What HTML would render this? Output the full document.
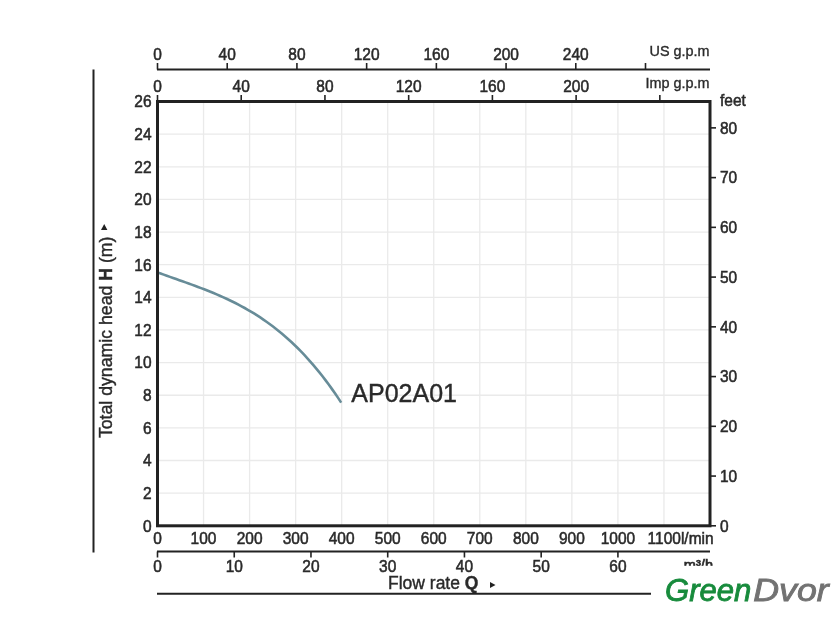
<!DOCTYPE html>
<html><head><meta charset="utf-8"><style>
html,body{margin:0;padding:0;background:#fff;}
svg{display:block;will-change:transform;}
text{font-family:"Liberation Sans",sans-serif;fill:#2a2a2a;}
</style></head><body>
<svg width="840" height="640" viewBox="0 0 840 640">
<line x1="203.54" y1="101.5" x2="203.54" y2="525.8" stroke="#eaeaea" stroke-width="1.3"/>
<line x1="249.58" y1="101.5" x2="249.58" y2="525.8" stroke="#eaeaea" stroke-width="1.3"/>
<line x1="295.62" y1="101.5" x2="295.62" y2="525.8" stroke="#eaeaea" stroke-width="1.3"/>
<line x1="341.67" y1="101.5" x2="341.67" y2="525.8" stroke="#eaeaea" stroke-width="1.3"/>
<line x1="387.71" y1="101.5" x2="387.71" y2="525.8" stroke="#eaeaea" stroke-width="1.3"/>
<line x1="433.75" y1="101.5" x2="433.75" y2="525.8" stroke="#eaeaea" stroke-width="1.3"/>
<line x1="479.79" y1="101.5" x2="479.79" y2="525.8" stroke="#eaeaea" stroke-width="1.3"/>
<line x1="525.83" y1="101.5" x2="525.83" y2="525.8" stroke="#eaeaea" stroke-width="1.3"/>
<line x1="571.88" y1="101.5" x2="571.88" y2="525.8" stroke="#eaeaea" stroke-width="1.3"/>
<line x1="617.92" y1="101.5" x2="617.92" y2="525.8" stroke="#eaeaea" stroke-width="1.3"/>
<line x1="663.96" y1="101.5" x2="663.96" y2="525.8" stroke="#eaeaea" stroke-width="1.3"/>
<line x1="157.5" y1="493.16" x2="710.0" y2="493.16" stroke="#eaeaea" stroke-width="1.3"/>
<line x1="157.5" y1="460.52" x2="710.0" y2="460.52" stroke="#eaeaea" stroke-width="1.3"/>
<line x1="157.5" y1="427.88" x2="710.0" y2="427.88" stroke="#eaeaea" stroke-width="1.3"/>
<line x1="157.5" y1="395.25" x2="710.0" y2="395.25" stroke="#eaeaea" stroke-width="1.3"/>
<line x1="157.5" y1="362.61" x2="710.0" y2="362.61" stroke="#eaeaea" stroke-width="1.3"/>
<line x1="157.5" y1="329.97" x2="710.0" y2="329.97" stroke="#eaeaea" stroke-width="1.3"/>
<line x1="157.5" y1="297.33" x2="710.0" y2="297.33" stroke="#eaeaea" stroke-width="1.3"/>
<line x1="157.5" y1="264.69" x2="710.0" y2="264.69" stroke="#eaeaea" stroke-width="1.3"/>
<line x1="157.5" y1="232.05" x2="710.0" y2="232.05" stroke="#eaeaea" stroke-width="1.3"/>
<line x1="157.5" y1="199.42" x2="710.0" y2="199.42" stroke="#eaeaea" stroke-width="1.3"/>
<line x1="157.5" y1="166.78" x2="710.0" y2="166.78" stroke="#eaeaea" stroke-width="1.3"/>
<line x1="157.5" y1="134.14" x2="710.0" y2="134.14" stroke="#eaeaea" stroke-width="1.3"/>
<path d="M157.50,272.36 L160.61,273.50 L163.73,274.63 L166.84,275.75 L169.95,276.86 L173.07,277.96 L176.18,279.06 L179.29,280.16 L182.41,281.27 L185.52,282.38 L188.64,283.50 L191.75,284.63 L194.86,285.77 L197.98,286.93 L201.09,288.10 L204.20,289.30 L207.32,290.52 L210.43,291.77 L213.54,293.05 L216.66,294.36 L219.77,295.70 L222.88,297.08 L226.00,298.50 L229.11,299.96 L232.23,301.47 L235.34,303.02 L238.45,304.62 L241.57,306.28 L244.68,307.99 L247.79,309.76 L250.91,311.59 L254.02,313.48 L257.13,315.44 L260.25,317.46 L263.36,319.56 L266.47,321.73 L269.59,323.97 L272.70,326.30 L275.82,328.70 L278.93,331.19 L282.04,333.77 L285.16,336.43 L288.27,339.19 L291.38,342.04 L294.50,344.99 L297.61,348.04 L300.72,351.19 L303.84,354.44 L306.95,357.80 L310.06,361.27 L313.18,364.86 L316.29,368.55 L319.41,372.37 L322.52,376.31 L325.63,380.37 L328.75,384.55 L331.86,388.87 L334.97,393.31 L338.09,397.89 L341.20,402.61" fill="none" stroke="#678c98" stroke-width="2.6" stroke-linejoin="round"/>
<rect x="157.5" y="101.5" width="552.5" height="424.29999999999995" fill="none" stroke="#222" stroke-width="3"/>
<text transform="translate(151.50,531.62) scale(1,1.12)" text-anchor="end" font-size="15.5" stroke="#2a2a2a" stroke-width="0.5" >0</text>
<text transform="translate(151.50,498.98) scale(1,1.12)" text-anchor="end" font-size="15.5" stroke="#2a2a2a" stroke-width="0.5" >2</text>
<text transform="translate(151.50,466.34) scale(1,1.12)" text-anchor="end" font-size="15.5" stroke="#2a2a2a" stroke-width="0.5" >4</text>
<text transform="translate(151.50,433.70) scale(1,1.12)" text-anchor="end" font-size="15.5" stroke="#2a2a2a" stroke-width="0.5" >6</text>
<text transform="translate(151.50,401.07) scale(1,1.12)" text-anchor="end" font-size="15.5" stroke="#2a2a2a" stroke-width="0.5" >8</text>
<text transform="translate(151.50,368.43) scale(1,1.12)" text-anchor="end" font-size="15.5" stroke="#2a2a2a" stroke-width="0.5" >10</text>
<text transform="translate(151.50,335.79) scale(1,1.12)" text-anchor="end" font-size="15.5" stroke="#2a2a2a" stroke-width="0.5" >12</text>
<text transform="translate(151.50,303.15) scale(1,1.12)" text-anchor="end" font-size="15.5" stroke="#2a2a2a" stroke-width="0.5" >14</text>
<text transform="translate(151.50,270.51) scale(1,1.12)" text-anchor="end" font-size="15.5" stroke="#2a2a2a" stroke-width="0.5" >16</text>
<text transform="translate(151.50,237.87) scale(1,1.12)" text-anchor="end" font-size="15.5" stroke="#2a2a2a" stroke-width="0.5" >18</text>
<text transform="translate(151.50,205.23) scale(1,1.12)" text-anchor="end" font-size="15.5" stroke="#2a2a2a" stroke-width="0.5" >20</text>
<text transform="translate(151.50,172.60) scale(1,1.12)" text-anchor="end" font-size="15.5" stroke="#2a2a2a" stroke-width="0.5" >22</text>
<text transform="translate(151.50,139.96) scale(1,1.12)" text-anchor="end" font-size="15.5" stroke="#2a2a2a" stroke-width="0.5" >24</text>
<text transform="translate(151.50,107.32) scale(1,1.12)" text-anchor="end" font-size="15.5" stroke="#2a2a2a" stroke-width="0.5" >26</text>
<line x1="710.0" y1="525.80" x2="716" y2="525.80" stroke="#222" stroke-width="1.6"/>
<text transform="translate(720.00,531.62) scale(1,1.12)" text-anchor="start" font-size="15.5" stroke="#2a2a2a" stroke-width="0.5" >0</text>
<line x1="710.0" y1="476.06" x2="716" y2="476.06" stroke="#222" stroke-width="1.6"/>
<text transform="translate(720.00,481.88) scale(1,1.12)" text-anchor="start" font-size="15.5" stroke="#2a2a2a" stroke-width="0.5" >10</text>
<line x1="710.0" y1="426.32" x2="716" y2="426.32" stroke="#222" stroke-width="1.6"/>
<text transform="translate(720.00,432.14) scale(1,1.12)" text-anchor="start" font-size="15.5" stroke="#2a2a2a" stroke-width="0.5" >20</text>
<line x1="710.0" y1="376.58" x2="716" y2="376.58" stroke="#222" stroke-width="1.6"/>
<text transform="translate(720.00,382.40) scale(1,1.12)" text-anchor="start" font-size="15.5" stroke="#2a2a2a" stroke-width="0.5" >30</text>
<line x1="710.0" y1="326.84" x2="716" y2="326.84" stroke="#222" stroke-width="1.6"/>
<text transform="translate(720.00,332.66) scale(1,1.12)" text-anchor="start" font-size="15.5" stroke="#2a2a2a" stroke-width="0.5" >40</text>
<line x1="710.0" y1="277.09" x2="716" y2="277.09" stroke="#222" stroke-width="1.6"/>
<text transform="translate(720.00,282.91) scale(1,1.12)" text-anchor="start" font-size="15.5" stroke="#2a2a2a" stroke-width="0.5" >50</text>
<line x1="710.0" y1="227.35" x2="716" y2="227.35" stroke="#222" stroke-width="1.6"/>
<text transform="translate(720.00,233.17) scale(1,1.12)" text-anchor="start" font-size="15.5" stroke="#2a2a2a" stroke-width="0.5" >60</text>
<line x1="710.0" y1="177.61" x2="716" y2="177.61" stroke="#222" stroke-width="1.6"/>
<text transform="translate(720.00,183.43) scale(1,1.12)" text-anchor="start" font-size="15.5" stroke="#2a2a2a" stroke-width="0.5" >70</text>
<line x1="710.0" y1="127.87" x2="716" y2="127.87" stroke="#222" stroke-width="1.6"/>
<text transform="translate(720.00,133.69) scale(1,1.12)" text-anchor="start" font-size="15.5" stroke="#2a2a2a" stroke-width="0.5" >80</text>
<text transform="translate(720.00,106.22) scale(1,1.12)" text-anchor="start" font-size="15.5" stroke="#2a2a2a" stroke-width="0.5" >feet</text>
<line x1="157.0" y1="69.5" x2="710.0" y2="69.5" stroke="#222" stroke-width="2"/>
<line x1="157.50" y1="63" x2="157.50" y2="69.5" stroke="#222" stroke-width="1.6"/>
<text transform="translate(157.50,60.12) scale(1,1.12)" text-anchor="middle" font-size="15.5" stroke="#2a2a2a" stroke-width="0.5" >0</text>
<line x1="227.21" y1="63" x2="227.21" y2="69.5" stroke="#222" stroke-width="1.6"/>
<text transform="translate(227.21,60.12) scale(1,1.12)" text-anchor="middle" font-size="15.5" stroke="#2a2a2a" stroke-width="0.5" >40</text>
<line x1="296.93" y1="63" x2="296.93" y2="69.5" stroke="#222" stroke-width="1.6"/>
<text transform="translate(296.93,60.12) scale(1,1.12)" text-anchor="middle" font-size="15.5" stroke="#2a2a2a" stroke-width="0.5" >80</text>
<line x1="366.64" y1="63" x2="366.64" y2="69.5" stroke="#222" stroke-width="1.6"/>
<text transform="translate(366.64,60.12) scale(1,1.12)" text-anchor="middle" font-size="15.5" stroke="#2a2a2a" stroke-width="0.5" >120</text>
<line x1="436.36" y1="63" x2="436.36" y2="69.5" stroke="#222" stroke-width="1.6"/>
<text transform="translate(436.36,60.12) scale(1,1.12)" text-anchor="middle" font-size="15.5" stroke="#2a2a2a" stroke-width="0.5" >160</text>
<line x1="506.07" y1="63" x2="506.07" y2="69.5" stroke="#222" stroke-width="1.6"/>
<text transform="translate(506.07,60.12) scale(1,1.12)" text-anchor="middle" font-size="15.5" stroke="#2a2a2a" stroke-width="0.5" >200</text>
<line x1="575.79" y1="63" x2="575.79" y2="69.5" stroke="#222" stroke-width="1.6"/>
<text transform="translate(575.79,60.12) scale(1,1.12)" text-anchor="middle" font-size="15.5" stroke="#2a2a2a" stroke-width="0.5" >240</text>
<line x1="645.50" y1="63" x2="645.50" y2="69.5" stroke="#222" stroke-width="1.6"/>
<text x="709.5" y="56" text-anchor="end" font-size="14.4" stroke="#2a2a2a" stroke-width="0.35">US g.p.m</text>
<line x1="157.50" y1="95" x2="157.50" y2="101.5" stroke="#222" stroke-width="1.6"/>
<text transform="translate(157.50,91.92) scale(1,1.12)" text-anchor="middle" font-size="15.5" stroke="#2a2a2a" stroke-width="0.5" >0</text>
<line x1="241.22" y1="95" x2="241.22" y2="101.5" stroke="#222" stroke-width="1.6"/>
<text transform="translate(241.22,91.92) scale(1,1.12)" text-anchor="middle" font-size="15.5" stroke="#2a2a2a" stroke-width="0.5" >40</text>
<line x1="324.95" y1="95" x2="324.95" y2="101.5" stroke="#222" stroke-width="1.6"/>
<text transform="translate(324.95,91.92) scale(1,1.12)" text-anchor="middle" font-size="15.5" stroke="#2a2a2a" stroke-width="0.5" >80</text>
<line x1="408.67" y1="95" x2="408.67" y2="101.5" stroke="#222" stroke-width="1.6"/>
<text transform="translate(408.67,91.92) scale(1,1.12)" text-anchor="middle" font-size="15.5" stroke="#2a2a2a" stroke-width="0.5" >120</text>
<line x1="492.40" y1="95" x2="492.40" y2="101.5" stroke="#222" stroke-width="1.6"/>
<text transform="translate(492.40,91.92) scale(1,1.12)" text-anchor="middle" font-size="15.5" stroke="#2a2a2a" stroke-width="0.5" >160</text>
<line x1="576.12" y1="95" x2="576.12" y2="101.5" stroke="#222" stroke-width="1.6"/>
<text transform="translate(576.12,91.92) scale(1,1.12)" text-anchor="middle" font-size="15.5" stroke="#2a2a2a" stroke-width="0.5" >200</text>
<line x1="659.84" y1="95" x2="659.84" y2="101.5" stroke="#222" stroke-width="1.6"/>
<text x="709.5" y="88" text-anchor="end" font-size="14.4" stroke="#2a2a2a" stroke-width="0.35">Imp g.p.m</text>
<text transform="translate(157.50,544.22) scale(1,1.12)" text-anchor="middle" font-size="15.5" stroke="#2a2a2a" stroke-width="0.5" >0</text>
<text transform="translate(203.54,544.22) scale(1,1.12)" text-anchor="middle" font-size="15.5" stroke="#2a2a2a" stroke-width="0.5" >100</text>
<text transform="translate(249.58,544.22) scale(1,1.12)" text-anchor="middle" font-size="15.5" stroke="#2a2a2a" stroke-width="0.5" >200</text>
<text transform="translate(295.62,544.22) scale(1,1.12)" text-anchor="middle" font-size="15.5" stroke="#2a2a2a" stroke-width="0.5" >300</text>
<text transform="translate(341.67,544.22) scale(1,1.12)" text-anchor="middle" font-size="15.5" stroke="#2a2a2a" stroke-width="0.5" >400</text>
<text transform="translate(387.71,544.22) scale(1,1.12)" text-anchor="middle" font-size="15.5" stroke="#2a2a2a" stroke-width="0.5" >500</text>
<text transform="translate(433.75,544.22) scale(1,1.12)" text-anchor="middle" font-size="15.5" stroke="#2a2a2a" stroke-width="0.5" >600</text>
<text transform="translate(479.79,544.22) scale(1,1.12)" text-anchor="middle" font-size="15.5" stroke="#2a2a2a" stroke-width="0.5" >700</text>
<text transform="translate(525.83,544.22) scale(1,1.12)" text-anchor="middle" font-size="15.5" stroke="#2a2a2a" stroke-width="0.5" >800</text>
<text transform="translate(571.88,544.22) scale(1,1.12)" text-anchor="middle" font-size="15.5" stroke="#2a2a2a" stroke-width="0.5" >900</text>
<text transform="translate(617.92,544.22) scale(1,1.12)" text-anchor="middle" font-size="15.5" stroke="#2a2a2a" stroke-width="0.5" >1000</text>
<text transform="translate(713.60,544.22) scale(1,1.12)" text-anchor="end" font-size="15.5" stroke="#2a2a2a" stroke-width="0.5" >1100l/min</text>
<line x1="157.0" y1="551.5" x2="710.0" y2="551.5" stroke="#222" stroke-width="2"/>
<line x1="157.50" y1="551.5" x2="157.50" y2="557.5" stroke="#222" stroke-width="1.6"/>
<text transform="translate(157.50,571.72) scale(1,1.12)" text-anchor="middle" font-size="15.5" stroke="#2a2a2a" stroke-width="0.5" >0</text>
<line x1="234.24" y1="551.5" x2="234.24" y2="557.5" stroke="#222" stroke-width="1.6"/>
<text transform="translate(234.24,571.72) scale(1,1.12)" text-anchor="middle" font-size="15.5" stroke="#2a2a2a" stroke-width="0.5" >10</text>
<line x1="310.97" y1="551.5" x2="310.97" y2="557.5" stroke="#222" stroke-width="1.6"/>
<text transform="translate(310.97,571.72) scale(1,1.12)" text-anchor="middle" font-size="15.5" stroke="#2a2a2a" stroke-width="0.5" >20</text>
<line x1="387.71" y1="551.5" x2="387.71" y2="557.5" stroke="#222" stroke-width="1.6"/>
<text transform="translate(387.71,571.72) scale(1,1.12)" text-anchor="middle" font-size="15.5" stroke="#2a2a2a" stroke-width="0.5" >30</text>
<line x1="464.44" y1="551.5" x2="464.44" y2="557.5" stroke="#222" stroke-width="1.6"/>
<text transform="translate(464.44,571.72) scale(1,1.12)" text-anchor="middle" font-size="15.5" stroke="#2a2a2a" stroke-width="0.5" >40</text>
<line x1="541.18" y1="551.5" x2="541.18" y2="557.5" stroke="#222" stroke-width="1.6"/>
<text transform="translate(541.18,571.72) scale(1,1.12)" text-anchor="middle" font-size="15.5" stroke="#2a2a2a" stroke-width="0.5" >50</text>
<line x1="617.92" y1="551.5" x2="617.92" y2="557.5" stroke="#222" stroke-width="1.6"/>
<text transform="translate(617.92,571.72) scale(1,1.12)" text-anchor="middle" font-size="15.5" stroke="#2a2a2a" stroke-width="0.5" >60</text>
<clipPath id="cm"><rect x="670" y="553" width="60" height="12.8"/></clipPath>
<text x="713" y="569.5" text-anchor="end" font-size="14.6" stroke="#2a2a2a" stroke-width="0.7" clip-path="url(#cm)">m³/h</text>
<text x="388" y="589.4" font-size="17.5" stroke="#2a2a2a" stroke-width="0.4">Flow rate <tspan font-weight="bold">Q</tspan></text>
<path d="M490,582 L495.5,585 L490,588 Z" fill="#222"/>
<line x1="157.0" y1="593.7" x2="651" y2="593.7" stroke="#222" stroke-width="2"/>
<line x1="93.5" y1="69.5" x2="93.5" y2="552.5" stroke="#222" stroke-width="2"/>
<g transform="translate(111.5,437.7) rotate(-90)"><text x="-0.4" y="0" font-size="17.7" stroke="#2a2a2a" stroke-width="0.4">Total dynamic head <tspan font-weight="bold">H</tspan> (m)</text></g>
<path d="M104.2,224 L107.4,230 L101,230 Z" fill="#222"/>
<text x="351.3" y="402" font-size="25" stroke="#2a2a2a" stroke-width="0.4">AP02A01</text>
<text x="665" y="600.7" font-size="31" font-style="italic" stroke-width="0.85" textLength="86.3" lengthAdjust="spacingAndGlyphs" style="fill:#178b3c" stroke="#178b3c">Green</text>
<text x="753.2" y="600.7" font-size="31" font-style="italic" stroke-width="0.85" textLength="75.5" lengthAdjust="spacingAndGlyphs" style="fill:#727272" stroke="#727272">Dvor</text>
</svg>
</body></html>
